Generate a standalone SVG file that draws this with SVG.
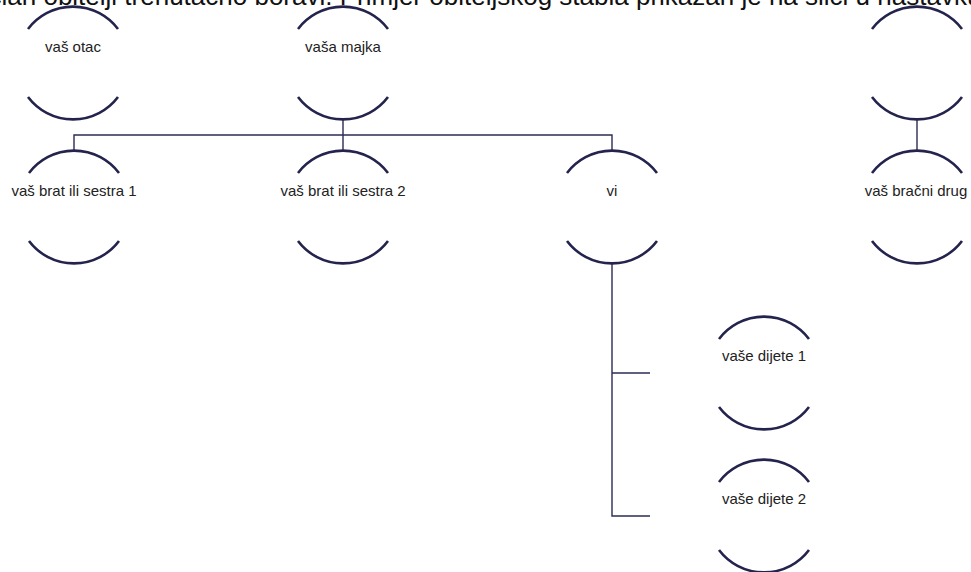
<svg xmlns="http://www.w3.org/2000/svg" width="971" height="572" viewBox="0 0 971 572">
<style>
.arc{fill:none;stroke:#23234d;stroke-width:2.6}
.ln{fill:none;stroke:#2b2b55;stroke-width:1.4}
.lbl{font-family:"Liberation Sans",Arial,sans-serif;font-size:15px;fill:#222;text-anchor:middle}
.hdr{font-family:"Liberation Sans",Arial,sans-serif;font-size:26px;fill:#111}
</style>
<defs>
<path id="shape" class="arc" d="M-45,-34 A56.4,56.4 0 0 1 45,-34 M-45,34 A56.4,56.4 0 0 0 45,34"/>
</defs>
<rect width="971" height="572" fill="#fff"/>
<text class="hdr" x="-11.5" y="4.5">član obitelji trenutačno boravi. Primjer obiteljskog stabla prikazan je na slici u nastavku.</text>
<g id="connectors">
<path class="ln" d="M343,119.4 V135 M74,150.6 V135 H612 V150.6 M343,135 V150.6"/>
<path class="ln" d="M917,119.4 V150.6"/>
<path class="ln" d="M612,263.4 V516 H650 M612,373 H650"/>
</g>
<g id="otac"><use href="#shape" x="73" y="63"/><text class="lbl" x="73" y="51.5">vaš otac</text></g>
<g id="majka"><use href="#shape" x="343" y="63"/><text class="lbl" x="343" y="51.5">vaša majka</text></g>
<g id="spouse-parent"><use href="#shape" x="917" y="63"/></g>
<g id="brat1"><use href="#shape" x="74" y="207"/><text class="lbl" x="74" y="196">vaš brat ili sestra 1</text></g>
<g id="brat2"><use href="#shape" x="343" y="207"/><text class="lbl" x="343" y="196">vaš brat ili sestra 2</text></g>
<g id="vi"><use href="#shape" x="612" y="207"/><text class="lbl" x="612" y="196">vi</text></g>
<g id="spouse"><use href="#shape" x="917" y="207"/><text class="lbl" x="916" y="196">vaš bračni drug</text></g>
<g id="dijete1"><use href="#shape" x="764" y="373"/><text class="lbl" x="764" y="361">vaše dijete 1</text></g>
<g id="dijete2"><use href="#shape" x="764" y="516"/><text class="lbl" x="764" y="504">vaše dijete 2</text></g>
</svg>
